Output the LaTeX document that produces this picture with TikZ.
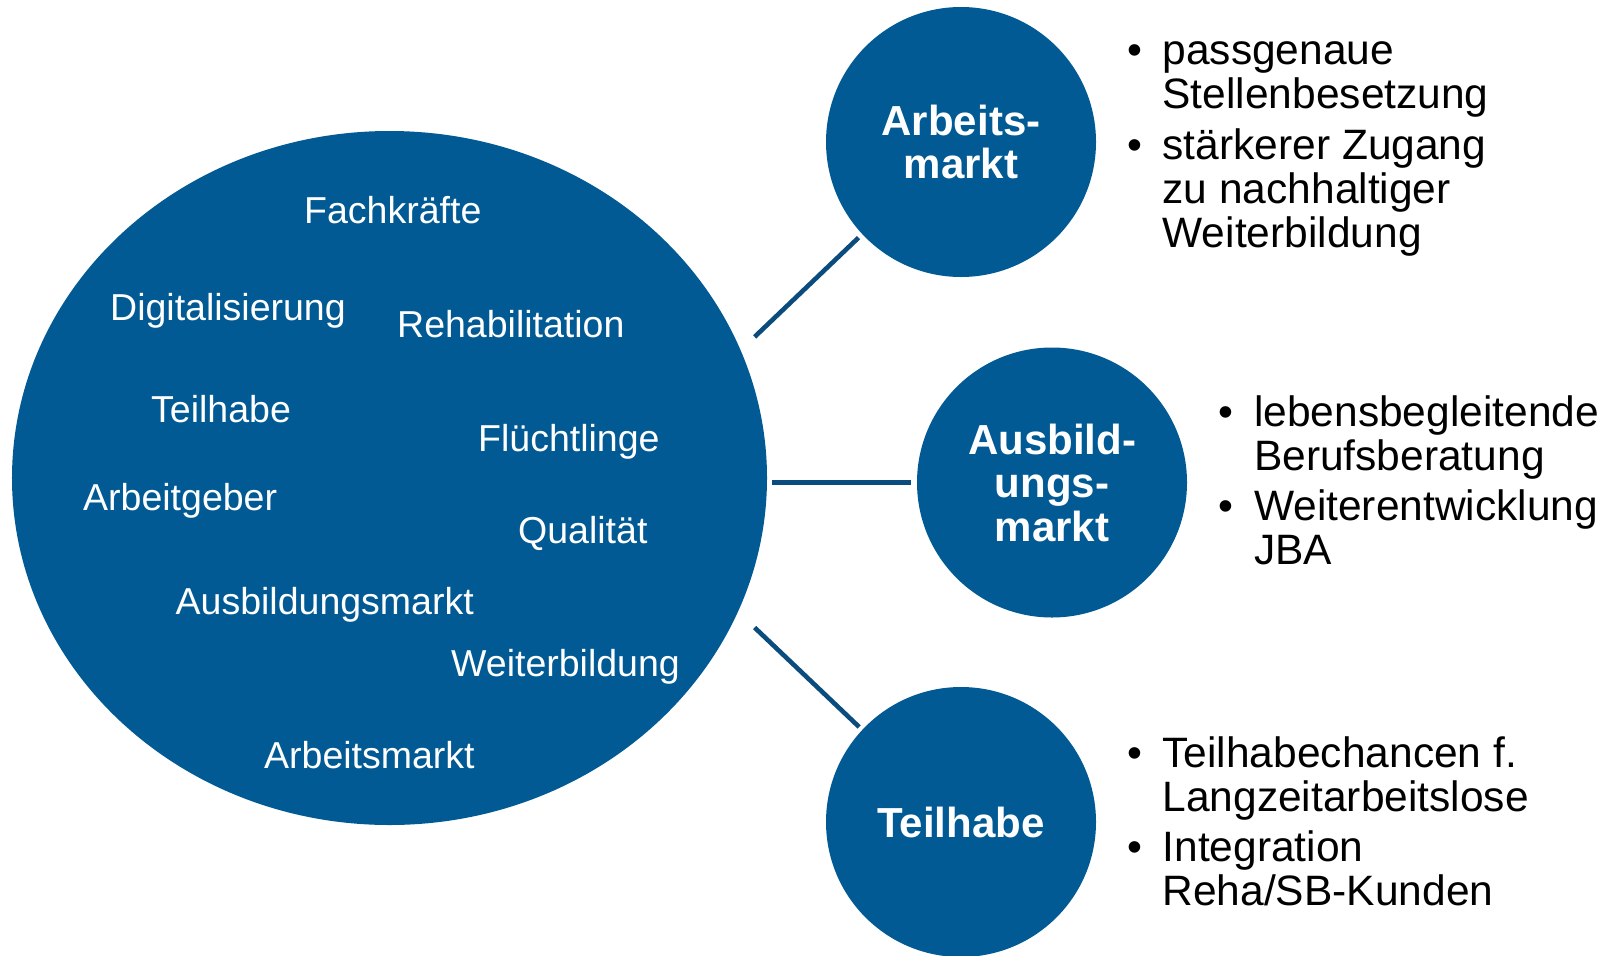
\documentclass[tikz,border=0pt]{standalone}
\usepackage{fontspec}
\setmainfont{Liberation Sans}
\usetikzlibrary{shapes.geometric}
\definecolor{bablue}{RGB}{2,90,148}
\definecolor{lineblue}{RGB}{10,76,126}
\begin{document}
\begin{tikzpicture}[x=1bp,y=-1bp,
  bigellipse/.style={ellipse, fill=bablue, draw=none, inner sep=0pt, minimum width=755bp, minimum height=694bp},
  topic/.style={circle, fill=bablue, draw=none, inner sep=0pt, minimum size=270bp, text=white, font=\fontsize{42bp}{43.5bp}\selectfont\bfseries, align=center},
  word/.style={anchor=base west, text=white, inner sep=0pt, font=\fontsize{37.5bp}{40bp}\selectfont},
  conn/.style={draw=lineblue, line width=4.6bp},
  bullets/.style={anchor=base west, inner sep=0pt, text=black, font=\fontsize{42.5bp}{44bp}\selectfont}
]
\useasboundingbox (0,0) rectangle (1612,955);
\node[bigellipse] (main) at (389.5,478) {};
\node[word] (w1) at (304,223) {Fachkräfte};
\node[word] (w2) at (110,320.5) {Digitalisierung};
\node[word] (w3) at (397,337.7) {Rehabilitation};
\node[word] (w4) at (151,422.7) {Teilhabe};
\node[word] (w5) at (478,451) {Flüchtlinge};
\node[word] (w6) at (83,510.7) {Arbeitgeber};
\node[word] (w7) at (518,543.3) {Qualität};
\node[word] (w8) at (175.5,614.3) {Ausbildungsmarkt};
\node[word] (w9) at (451,676) {Weiterbildung};
\node[word] (w10) at (264,768.3) {Arbeitsmarkt};

\node[topic] (arb) at (961,142) {Arbeits-\\markt};
\node[topic] (ausb) at (1052,482.5) {Ausbild-\\ungs-\\markt};
\node[topic] (teil) at (961,822) {Teilhabe};

\draw[conn, shorten <=19.3bp, shorten >=5bp] (main.20.73) -- (arb.223.3);
\draw[conn, shorten <=5bp, shorten >=6bp] (main.east |- ausb.west) -- (ausb.west);
\draw[conn, shorten <=22.9bp, shorten >=4.1bp] (main.-21.64) -- (teil.137.5);

\node[bullets] (l1) at (1127.5,64.5) {\begin{tabular}[t]{@{}l@{\hspace{20bp}}l@{}}\textbullet & passgenaue\\ & Stellenbesetzung\\[6.5bp] \textbullet & stärkerer Zugang\\ & zu nachhaltiger\\ & Weiterbildung\end{tabular}};
\node[bullets] (l2) at (1218,426) {\begin{tabular}[t]{@{}l@{\hspace{21bp}}l@{}}\textbullet & lebensbegleitende\\ & Berufsberatung\\[6.5bp] \textbullet & Weiterentwicklung\\ & JBA\end{tabular}};
\node[bullets] (l3) at (1127.5,767) {\begin{tabular}[t]{@{}l@{\hspace{20bp}}l@{}}\textbullet & Teilhabechancen f.\\ & Langzeitarbeitslose\\[6.5bp] \textbullet & Integration\\ & Reha/SB-Kunden\end{tabular}};
\end{tikzpicture}
\end{document}
